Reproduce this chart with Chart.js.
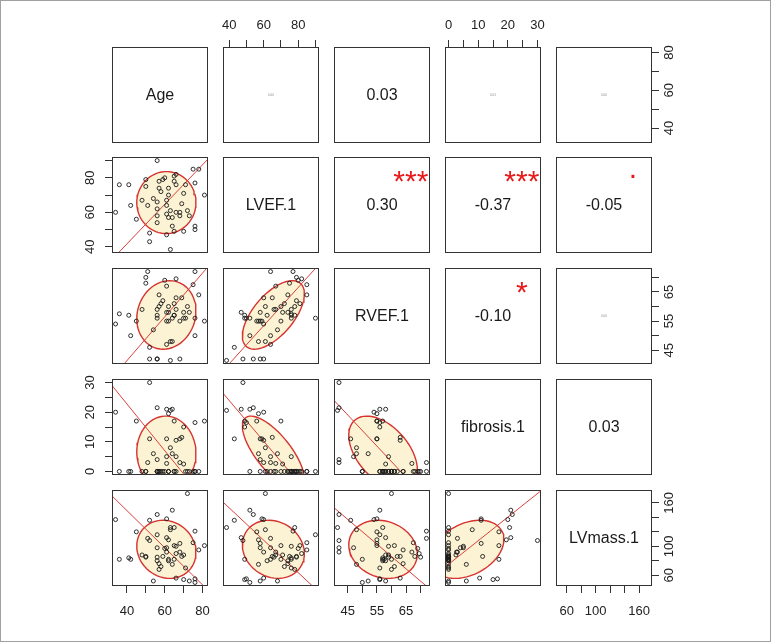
<!DOCTYPE html>
<html lang="en">
<head>
<meta charset="UTF-8">
<title>Scatterplot matrix</title>
<script src="https://cdn.jsdelivr.net/npm/chart.js"></script>
<style>
  body { margin: 0; background: #fff; }
  #page { position: relative; width: 771px; height: 642px; box-sizing: border-box; border: 1px solid #a0a0a0; overflow: hidden;
          font-family: "Liberation Sans", Arial, sans-serif; }
  .cell { position: absolute; }
  .lbl { position: absolute; font-size: 16px; line-height: 1; color: #1a1a1a; white-space: nowrap; transform: translate(-50%, -50%); }
  .tiny { font-size: 3px; color: #888; }
  .star { position: absolute; color: #e8191a; font-size: 30px; line-height: 30px; white-space: nowrap; transform: translateX(-50%); }
</style>
</head>
<body>
<div id="page"></div>
<script>
// one entry per patient
const age      = [56,36,41,34,42,45,50,50,48,51,52,52,54,56,56,56,56,57,59,60,57,58,61,62,62,61,63,61,62,64,65,65,66,66,64,65,61,63,66,68,69,68,70,71,70,72,73,75,76,76,76,78,81];
const lvef     = [90,76,76,60,64,56,79,75,67,64,48,43,68,66,62,58,54,78,79,80,74,72,67,70,74,64,61,59,57,57,78,81,82,76,52,49,47,38.5,60,60,65,58,71,76,49,61,58,85,77,50,52,85,70];
const rvef     = [56,57.5,57,54,50,55,70,68,59,72,42,46,52,59,57,42,42,60,62,69,64,61,67,60,58,47,48,55,55,48,57,61,69.5,59,56,57,58,41.5,63,42,63,55,58,56,56,60,58,67.5,72,56,50,64,55];
const fibrosis = [0,0,0,20,0,17,0,0,0,3,30,11,6,0,0,4,21.5,0,0,0,0,0,2.7,0,0,5,8,11,19.5,6,0,0,0,5,21,17,21,20.6,10.5,3,11.5,11,2.5,0,15,0,0,0,0,16.5,0,0,17];
const lvmass   = [116,82,84,137,82,120,85,86,88,111,108,136,52,85,80,98,144,68,86,97,76,72,92,82,80,98,123,138,109,75,126,101,90,100,150,82,112,126,56,92,86,104,88,70,54,173,52,105,121,55,50,95,101];

const varNames   = ['Age', 'LVEF.1', 'RVEF.1', 'fibrosis.1', 'LVmass.1'];
const tickValues = [[40,50,60,70,80], [40,50,60,70,80,90], [45,50,55,60,65,70], [0,5,10,15,20,25,30], [60,80,100,120,140,160]];
const tickLabels = [[40,60,80], [40,60,80], [45,55,65], [0,10,20,30], [60,100,160]];

// upper panels, row by row: (1,2) (1,3) (1,4) (1,5) (2,3) (2,4) (2,5) (3,4) (3,5) (4,5)
const corrLabels = ['0.00', '0.03', '0.01', '0.00', '0.30', '-0.37', '-0.05', '-0.10', '0.00', '0.03'];
const corrTiny   = [true, false, true, true, false, false, false, false, true, false];
const corrStars  = ['', '', '', '', '***', '***', '.', '*', '', ''];

const columns = [age, lvef, rvef, fibrosis, lvmass];

// layout
const PANEL = 96, M = 45;
const colLeft = j => Math.round(111.3 + 111 * j);
const rowTop  = i => Math.round(45.5 + 110.9 * i);
const FONT = '"Liberation Sans", Arial, sans-serif';
const ELLIPSE_SD = 1.5;

function mean(a) { return a.reduce((s, v) => s + v, 0) / a.length; }
function sd(a) { const m = mean(a); return Math.sqrt(a.reduce((s, v) => s + (v - m) * (v - m), 0) / (a.length - 1)); }
function cor(a, b) {
  const ma = mean(a), mb = mean(b);
  let sab = 0, saa = 0, sbb = 0;
  a.forEach((v, k) => { sab += (v - ma) * (b[k] - mb); saa += (v - ma) ** 2; sbb += (b[k] - mb) ** 2; });
  return sab / Math.sqrt(saa * sbb);
}
function range(a) {
  const lo = Math.min(...a), hi = Math.max(...a), pad = 0.04 * (hi - lo);
  return [lo - pad, hi + pad];
}
const ranges = columns.map(range);

// correlation ellipse (psych style) and SD line
function ellipse(xs, ys) {
  const mx = mean(xs), my = mean(ys), sx = sd(xs), sy = sd(ys), r = cor(xs, ys);
  const th = 1 / Math.SQRT2, a = Math.sqrt(1 + r), b = Math.sqrt(1 - r);
  const pts = [];
  for (let k = 0; k <= 60; k++) {
    const t = 2 * Math.PI * k / 60, c = Math.cos(t), s = Math.sin(t);
    pts.push({ x: mx + ELLIPSE_SD * sx * (c * a * th - s * b * th), y: my + ELLIPSE_SD * sy * (c * a * th + s * b * th) });
  }
  return pts;
}
function sdLine(xs, ys, xr) {
  const mx = mean(xs), my = mean(ys), slope = Math.sign(cor(xs, ys)) * sd(ys) / sd(xs);
  return xr.map(x => ({ x: x, y: my + slope * (x - mx) }));
}

const measureCtx = document.createElement('canvas').getContext('2d');
measureCtx.font = '13px ' + FONT;

function scale(v, axis, side) {
  const widest = Math.max(...tickLabels[v].map(t => measureCtx.measureText(String(t)).width));
  let pad;
  if (axis === 'x') pad = side === 'top' ? 7 : 10.5;
  else pad = (side === 'left' ? 22 : 17) - 7 - widest / 2;
  return {
    type: 'linear', min: ranges[v][0], max: ranges[v][1],
    display: side !== null, position: side || (axis === 'x' ? 'bottom' : 'left'),
    afterBuildTicks: s => { s.ticks = tickValues[v].map(t => ({ value: t })); },
    afterFit: s => {
      if (side === null) return;
      if (axis === 'x') s.height = M; else s.width = M;
    },
    grid: { drawOnChartArea: false, drawTicks: true, tickLength: 7, color: '#333', lineWidth: 1 },
    border: { display: false },
    ticks: {
      autoSkip: false, color: '#222', font: { family: FONT, size: 13 }, padding: pad,
      minRotation: axis === 'y' ? 90 : 0, maxRotation: axis === 'y' ? 90 : 0,
      crossAlign: axis === 'y' ? 'center' : 'near',
      callback: val => tickLabels[v].includes(val) ? String(val) : ''
    }
  };
}

const framePlugin = {
  id: 'frame',
  afterDraw(chart) {
    const { ctx, chartArea: a } = chart;
    ctx.save();
    ctx.strokeStyle = '#333';
    ctx.lineWidth = 1;
    ctx.strokeRect(Math.round(a.left) + 0.5, Math.round(a.top) + 0.5, Math.round(a.width) - 1, Math.round(a.height) - 1);
    ctx.restore();
  }
};

const page = document.getElementById('page');
let upper = 0;

for (let i = 0; i < 5; i++) {
  for (let j = 0; j < 5; j++) {
    const top = rowTop(i), left = colLeft(j);
    const xSide = (i === 0 && j % 2 === 1) ? 'top' : (i === 4 && j % 2 === 0) ? 'bottom' : null;
    const ySide = (j === 0 && i % 2 === 1) ? 'left' : (j === 4 && i % 2 === 0) ? 'right' : null;

    const cell = document.createElement('div');
    cell.className = 'cell';
    cell.style.left = (left - M) + 'px';
    cell.style.top = (top - M) + 'px';
    const cv = document.createElement('canvas');
    cv.width = PANEL + 2 * M;
    cv.height = PANEL + 2 * M;
    cell.appendChild(cv);
    page.appendChild(cell);

    const datasets = [];
    if (i > j) {
      const xs = columns[j], ys = columns[i];
      datasets.push({
        type: 'scatter', data: xs.map((x, k) => ({ x: x, y: ys[k] })), order: 1,
        pointRadius: 2, pointBorderWidth: 0.9, pointBorderColor: '#1a1a1a', pointBackgroundColor: 'rgba(0,0,0,0)'
      });
      datasets.push({
        type: 'line', data: sdLine(xs, ys, ranges[j]), order: 2, clip: 0,
        borderColor: '#d9403c', borderWidth: 1, pointRadius: 0, fill: false, tension: 0
      });
      datasets.push({
        type: 'line', data: ellipse(xs, ys), order: 3, clip: 0,
        borderColor: '#d6332f', borderWidth: 1.4, backgroundColor: '#fcf3d4', pointRadius: 0, fill: 'shape', tension: 0
      });
    }

    new Chart(cv, {
      type: 'scatter',
      data: { datasets: datasets },
      options: {
        responsive: false, animation: false,
        layout: { padding: { left: ySide === 'left' ? 0 : M, right: ySide === 'right' ? 0 : M, top: xSide === 'top' ? 0 : M, bottom: xSide === 'bottom' ? 0 : M } },
        plugins: { legend: { display: false }, tooltip: { enabled: false } },
        scales: { x: scale(j, 'x', xSide), y: scale(i, 'y', ySide) }
      },
      plugins: [framePlugin]
    });

    const cx = left + PANEL / 2, cy = top + PANEL / 2;
    if (i === j) {
      addText(varNames[i], cx, cy, 'lbl');
    } else if (j > i) {
      addText(corrLabels[upper], cx, cy, corrTiny[upper] ? 'lbl tiny' : 'lbl');
      if (corrStars[upper]) addStars(corrStars[upper], left + 0.8 * PANEL, top + 0.2 * PANEL + 1);
      upper++;
    }
  }
}

function addText(txt, x, y, cls) {
  const d = document.createElement('div');
  d.className = cls;
  d.textContent = txt;
  d.style.left = x + 'px';
  d.style.top = y + 'px';
  page.appendChild(d);
}

// place the visible glyphs so that their middle sits on (x, y)
function addStars(txt, x, y) {
  const glyphMid = txt[0] === '.' ? 23.9 : 11.5;
  const d = document.createElement('div');
  d.className = 'star';
  d.textContent = txt;
  d.style.left = x + 'px';
  d.style.top = (y - glyphMid) + 'px';
  page.appendChild(d);
}
</script>
</body>
</html>
